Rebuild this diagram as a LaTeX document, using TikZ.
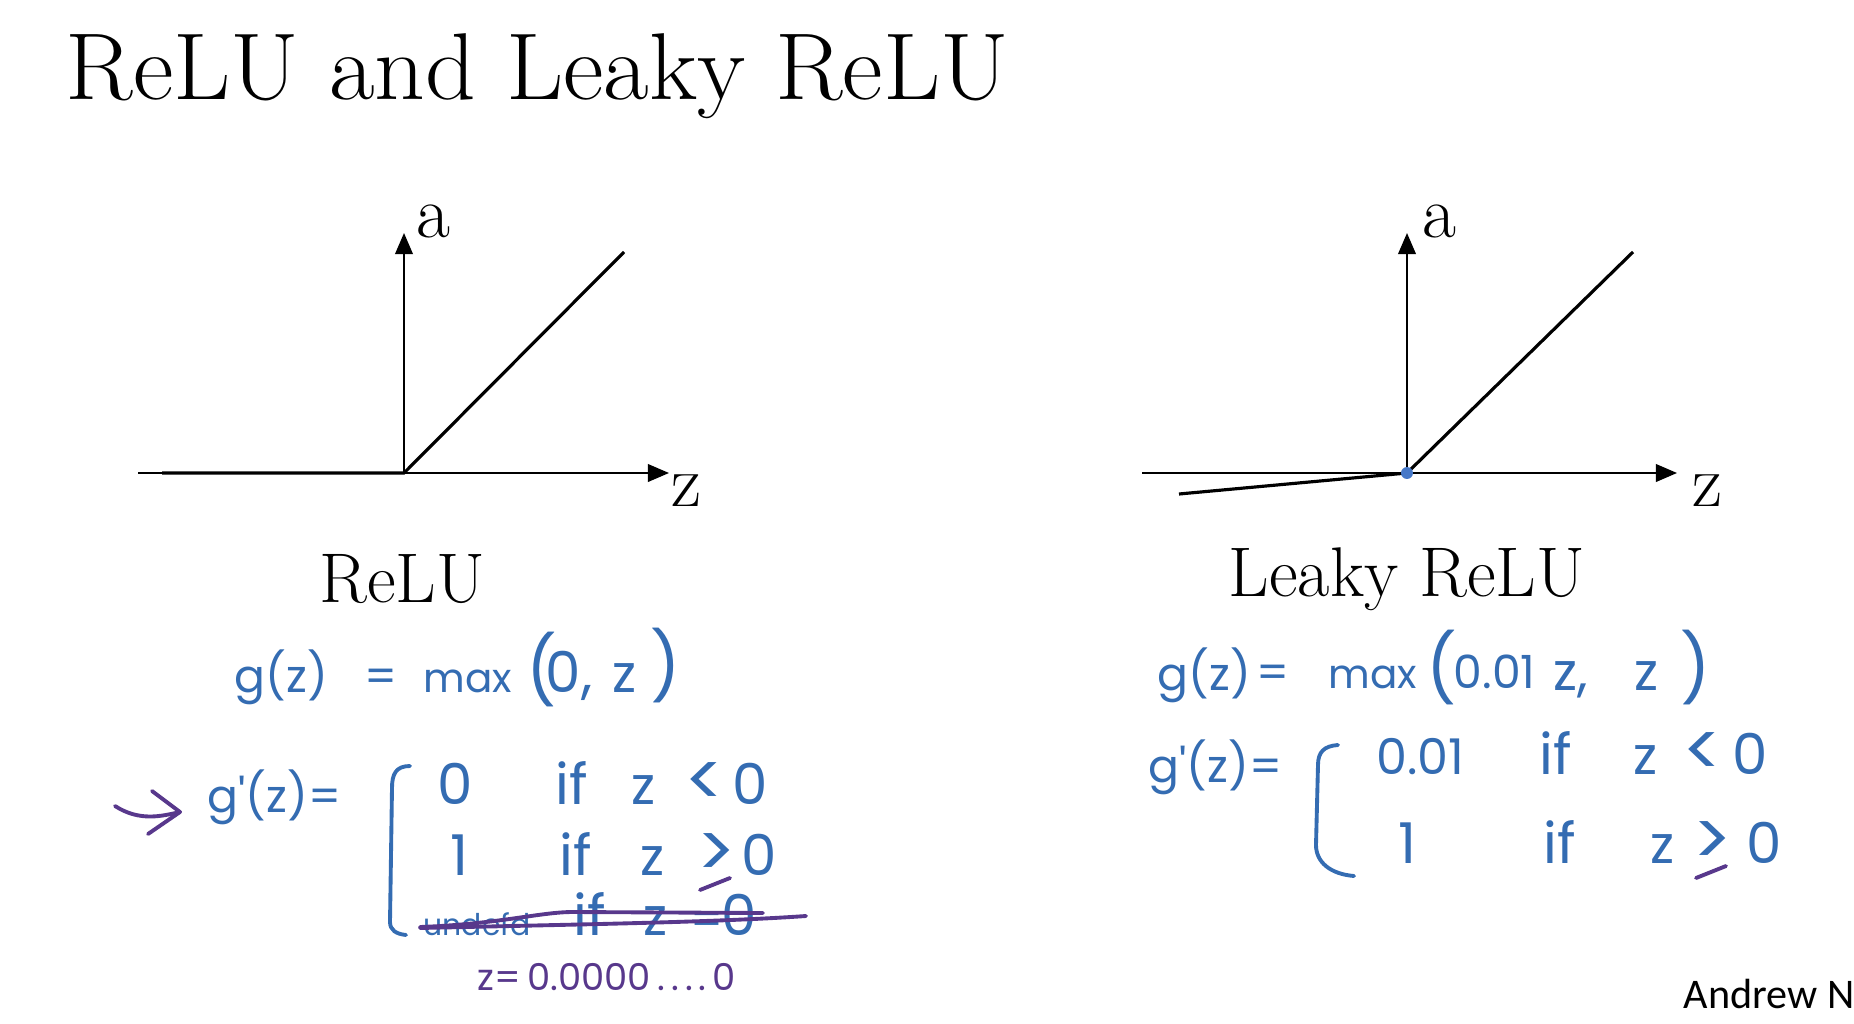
\documentclass[tikz,border=0pt]{standalone}
\usepackage{fontspec}
\usepackage{graphicx}
\usetikzlibrary{arrows.meta}
\newfontfamily\handfont{Poppins}
\newfontfamily\ngfont{Carlito}
\definecolor{ink}{RGB}{52,108,178}
\definecolor{violetink}{RGB}{88,56,140}
\definecolor{dotblue}{RGB}{70,120,200}
\begin{document}
\begin{tikzpicture}[x=0.01cm,y=-0.01cm,
  axis/.style={line width=0.6pt,-{Triangle[length=6pt,width=5pt]}},
  fn/.style={line width=0.9pt},
  lab/.style={inner sep=0pt,font=\fontsize{21}{21}\selectfont},
  plotname/.style={inner sep=0pt,font=\fontsize{20}{20}\selectfont},
  hw/.style={inner sep=0pt,anchor=base west,text=ink,font=\handfont\fontsize{13}{13}\selectfont},
  hws/.style={hw,font=\handfont\fontsize{11.5}{11.5}\selectfont},
  hwz/.style={hw,font=\handfont\fontsize{15}{15}\selectfont},
  hwd/.style={hw,font=\handfont\fontsize{16}{16}\selectfont},
  hwrel/.style={hw,font=\handfont\fontsize{21}{21}\selectfont},
  hwpar/.style={hw,font=\handfont\fontsize{19}{19}\selectfont},
  hwp/.style={hw,text=violetink,font=\handfont\fontsize{10.5}{10.5}\selectfont},
  pen/.style={draw=ink,line width=1.1pt,line cap=round,line join=round},
  ppen/.style={draw=violetink,line width=1.1pt,line cap=round,line join=round}]
\useasboundingbox (0,0) rectangle (1854,1024);
\fill[white] (0,0) rectangle (1854,1024);
% title
\node[anchor=base west,inner sep=0pt,font=\fontsize{27}{30}\selectfont] (title) at (65,100) {\scalebox{1.045}[1]{ReLU and Leaky ReLU}};
% left plot
\coordinate (o1) at (404,473);
\coordinate (xl1) at (138,473);
\coordinate (xr1) at (669,473);
\coordinate (yt1) at (404,233);
\coordinate (fl1) at (162,473);
\coordinate (fr1) at (624,252);
\draw[axis] (xl1) -- (xr1);
\draw[axis] (o1) -- (yt1);
\draw[fn] (fl1) -- (o1) -- (fr1);
\node[lab] (a1) at (433,221) {a};
\node[lab] (z1) at (686,491) {z};
\node[plotname] (relu) at (402,579) {ReLU};
% right plot
\coordinate (o2) at (1407,473);
\coordinate (xl2) at (1142,473);
\coordinate (xr2) at (1677,473);
\coordinate (yt2) at (1407,233);
\coordinate (fl2) at (1179,494);
\coordinate (fr2) at (1633,252);
\draw[axis] (xl2) -- (xr2);
\draw[axis] (o2) -- (yt2);
\draw[fn] (fl2) -- (o2) -- (fr2);
\fill[dotblue] (o2) circle (1.7pt);
\node[lab] (a2) at (1439,221) {a};
\node[lab] (z2) at (1707,491) {z};
\node[plotname] (lrelu) at (1407,579) {Leaky ReLU};
% left handwriting: g(z) = max(0, z)
\node[hw] (gA) at (234,692) {g(z)};
\node[hw] (eqA) at (364,692) {=};
\node[hws] (maxA) at (423,692) {max};
\node[hwpar] (lpA) at (526,694) {(};
\node[hwd] (zeroA) at (545,692) {0,};
\node[hwz] (zA) at (612,692) {z};
\node[hwpar] (rpA) at (650,690) {)};
% g'(z)
\node[hw] (gpA) at (207,812) {g\textquotesingle(z)=};
\node[hwd] (c1v) at (437,804) {0};
\node[hwd] (c1i) at (555,804) {if};
\node[hwz] (c1z) at (631,804) {z};
\node[hwrel] (c1l) at (684,806) {<};
\node[hwd] (c1c) at (732,804) {0};
\node[hwd] (c2v) at (450,875) {1};
\node[hwd] (c2i) at (559,875) {if};
\node[hwz] (c2z) at (640,875) {z};
\node[hwrel] (c2g) at (696,877) {>};
\node[hwd] (c2c) at (741,875) {0};
\draw[ppen] (700,890) -- (730,878);
\node[hw,font=\handfont\fontsize{8.5}{8.5}\selectfont] (c3v) at (423,935) {undefd};
\node[hwd] (c3i) at (573,935) {if};
\node[hwz] (c3z) at (643,935) {z};
\node[hw] (c3e) at (690,935) {=};
\node[hwd] (c3c) at (721,935) {0};
\draw[ppen] (420,927) .. controls (500,924) and (540,912) .. (573,912) -- (763,913);
\draw[ppen] (420,928) .. controls (600,924) and (720,922) .. (806,916);
\node[hwp] (zeq) at (477,990) {z=\,0.0000\,.\,.\,.\,.\,0};
% left brace
\draw[pen] (410,766) .. controls (396,766) and (392,774) .. (392,788)
  -- (390,922) .. controls (390,930) and (396,934) .. (406,935);
% purple arrow
\coordinate (ar0) at (115,806);
\coordinate (ar1) at (180,812);
\coordinate (ah1) at (152,791);
\coordinate (ah2) at (148,834);
\draw[ppen] (ar0) .. controls (140,822) and (162,816) .. (ar1);
\draw[ppen] (ah1) -- (ar1) -- (ah2);
% right handwriting: g(z) = max(0.01z, z)
\node[hw] (gB) at (1157,690) {g(z)};
\node[hw] (eqB) at (1256,688) {=};
\node[hws] (maxB) at (1328,688) {max};
\node[hwpar] (lpB) at (1426,692) {(};
\node[hw] (cB) at (1453,688) {0.01};
\node[hwz] (zB1) at (1553,690) {z,};
\node[hwz] (zB2) at (1634,690) {z};
\node[hwpar] (rpB) at (1680,692) {)};
% g'(z)
\node[hw] (gpB) at (1148,782) {g\textquotesingle(z)=};
\node[hw,font=\handfont\fontsize{14}{14}\selectfont] (d1v) at (1376,774) {0.01};
\node[hwd] (d1i) at (1539,774) {if};
\node[hwz] (d1z) at (1633,774) {z};
\node[hwrel] (d1l) at (1682,776) {<};
\node[hwd] (d1c) at (1732,774) {0};
\node[hwd] (d2v) at (1398,863) {1};
\node[hwd] (d2i) at (1543,863) {if};
\node[hwz] (d2z) at (1650,863) {z};
\node[hwrel] (d2g) at (1692,865) {>};
\node[hwd] (d2c) at (1746,863) {0};
\draw[ppen] (1696,878) -- (1726,866);
% right brace
\draw[pen] (1338,745) .. controls (1324,746) and (1318,752) .. (1318,765)
  -- (1316,845) .. controls (1316,862) and (1330,874) .. (1354,876);
% footer
\node[anchor=base west,inner sep=0pt,font=\ngfont\fontsize{12}{12}\selectfont] (ng) at (1683,1008) {Andrew Ng};
\end{tikzpicture}
\end{document}
